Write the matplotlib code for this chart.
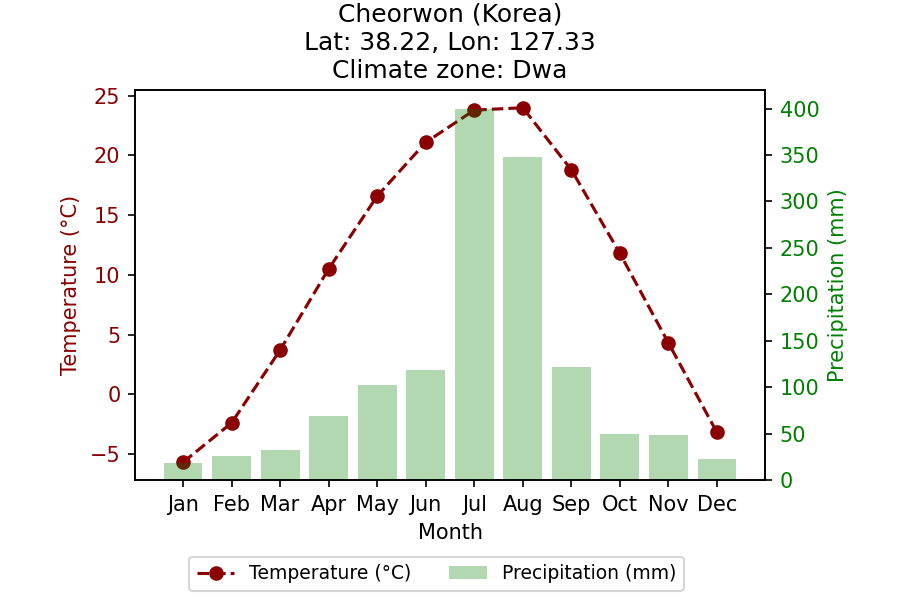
import matplotlib.pyplot as plt

months = ["Jan", "Feb", "Mar", "Apr", "May", "Jun", "Jul", "Aug", "Sep", "Oct", "Nov", "Dec"]
temperature = [-5.7, -2.4, 3.7, 10.5, 16.6, 21.1, 23.8, 24.0, 18.8, 11.8, 4.3, -3.2]
precipitation = [18, 26, 32, 69, 102, 118, 400, 348, 122, 50, 48.5, 23]

fig, ax1 = plt.subplots(figsize=(6, 4), dpi=150)
ax2 = ax1.twinx()

line = ax1.plot(months, temperature, color="darkred", marker="o", linestyle="--",
                linewidth=1.5, label="Temperature (°C)")
bars = ax2.bar(months, precipitation, color="green", alpha=0.3, label="Precipitation (mm)")

ax1.set_xlabel("Month")
ax1.set_ylabel("Temperature (°C)", color="darkred")
ax2.set_ylabel("Precipitation (mm)", color="green")
ax1.tick_params(axis="y", labelcolor="darkred")
ax2.tick_params(axis="y", labelcolor="green")

ax1.set_title("Cheorwon (Korea)\nLat: 38.22, Lon: 127.33\nClimate zone: Dwa")

ax1.legend(handles=[line[0], bars], loc="upper center", bbox_to_anchor=(0.4786, -0.1726),
           ncol=2, fontsize=9)

fig.subplots_adjust(left=0.15, right=0.85, top=0.85, bottom=0.2)
fig.savefig("out.png", dpi=150)
